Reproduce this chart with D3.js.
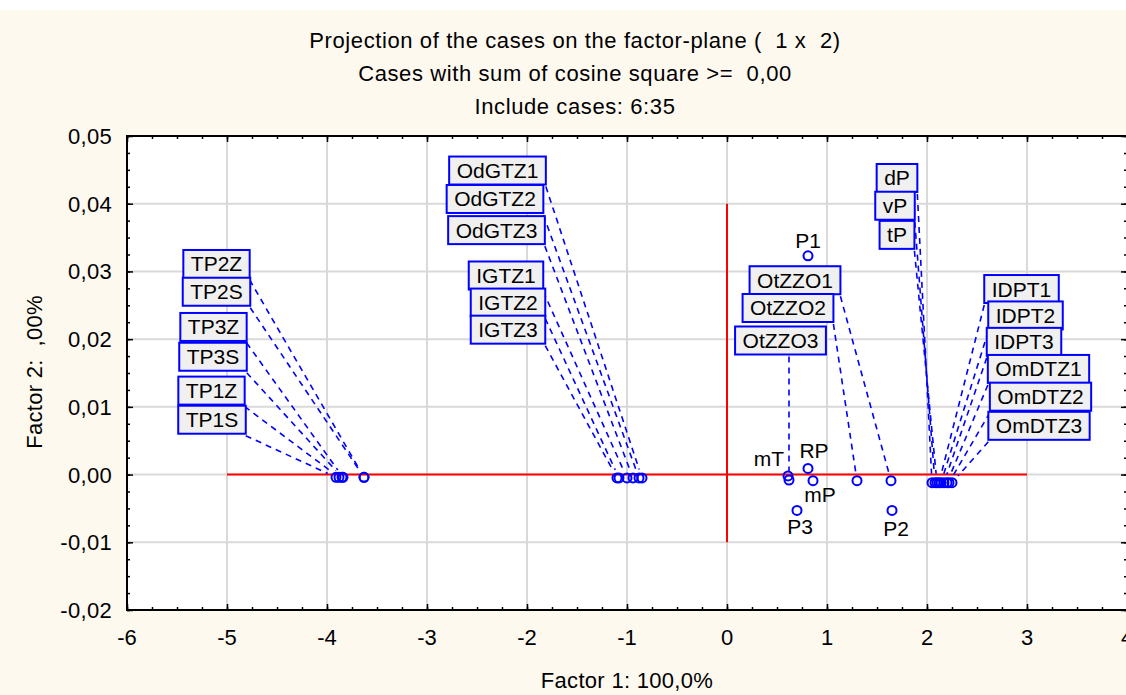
<!DOCTYPE html>
<html>
<head>
<meta charset="utf-8">
<script src="https://cdn.jsdelivr.net/npm/d3@7"></script>
<style>
  body { margin: 0; background: #fff; }
  text { font-family: "Liberation Sans", Arial, sans-serif; fill: #000; white-space: pre; }
</style>
</head>
<body>
<div id="chart"></div>
<script>
// case names and coordinates (factor 1, factor 2)
var boxedNames = ["TP1Z", "TP1S", "TP2Z", "TP2S", "TP3Z", "TP3S",
  "OdGTZ1", "OdGTZ2", "OdGTZ3", "IGTZ1", "IGTZ2", "IGTZ3",
  "OtZZO1", "OtZZO2", "OtZZO3", "dP", "vP", "tP",
  "IDPT1", "IDPT2", "IDPT3", "OmDTZ1", "OmDTZ2", "OmDTZ3"];
var boxedF1 = [-3.88, -3.91, -3.63, -3.63, -3.84, -3.85,
  -0.85, -0.88, -0.94, -1.00, -1.08, -1.10,
  1.64, 1.30, 0.62, 2.05, 2.08, 2.10,
  2.12, 2.14, 2.17, 2.20, 2.22, 2.25];
var boxedF2 = [-0.0004, -0.0004, -0.0004, -0.0004, -0.0004, -0.0004,
  -0.0005, -0.0005, -0.0005, -0.0005, -0.0005, -0.0005,
  -0.0009, -0.0009, -0.0008, -0.0012, -0.0012, -0.0012,
  -0.0012, -0.0012, -0.0012, -0.0012, -0.0012, -0.0012];
// where the software put each label box (centre, in factor units)
var boxF1 = [-5.155, -5.15, -5.105, -5.105, -5.135, -5.14,
  -2.295, -2.32, -2.305, -2.21, -2.19, -2.19,
  0.68, 0.61, 0.535, 1.70, 1.68, 1.70,
  2.945, 2.985, 2.97, 3.115, 3.135, 3.12];
var boxF2 = [0.0124, 0.0081, 0.0311, 0.0270, 0.0218, 0.0174,
  0.0449, 0.0407, 0.0361, 0.0294, 0.0254, 0.0214,
  0.0287, 0.0246, 0.0198, 0.0438, 0.0397, 0.0354,
  0.0274, 0.0235, 0.0196, 0.0156, 0.0115, 0.0072];

var plainNames = ["P1", "mT", "RP", "mP", "P3", "P2"];
var plainF1 = [0.81, 0.61, 0.81, 0.86, 0.70, 1.65];
var plainF2 = [0.0323, -0.0002, 0.0009, -0.0009, -0.0053, -0.0053];
// label offsets from the point (px) and anchor
var plainDx = [0, -4, 6, 7, 3, 4];
var plainDy = [-8, -10, -10, 21, 24, 26];
var plainAnchor = ["middle", "end", "middle", "middle", "middle", "middle"];

var xTicks = [-6, -5, -4, -3, -2, -1, 0, 1, 2, 3, 4];
var yTicks = [-0.02, -0.01, 0, 0.01, 0.02, 0.03, 0.04, 0.05];

var titleLines = ["Projection of the cases on the factor-plane (  1 x  2)",
  "Cases with sum of cosine square >=  0,00",
  "Include cases: 6:35"];

var svgWidth = 1126;
var svgHeight = 695;
var margin = {top: 136, right: -1, bottom: 85, left: 127};
var width = svgWidth - margin.left - margin.right;
var height = svgHeight - margin.top - margin.bottom;
var fs = "22px", ls = "0.6px";

var svg = d3.select("#chart")
  .append("svg")
  .attr("width", svgWidth)
  .attr("height", svgHeight);

// cream page background
svg.append("rect")
  .attr("x", 0).attr("y", 10)
  .attr("width", svgWidth).attr("height", svgHeight - 10)
  .attr("fill", "#fdf9ef");

var g = svg.append("g")
  .attr("transform", `translate(${margin.left}, ${margin.top})`);

var x = d3.scaleLinear().domain([-6, 4]).range([0, width]);
var y = d3.scaleLinear().domain([-0.02, 0.05]).range([height, 0]);

var comma = function(d) { return d.toFixed(2).replace(".", ","); };

g.append("rect")
  .attr("width", width).attr("height", height)
  .attr("fill", "#fff");

// grid
g.selectAll(".gx").data(xTicks).enter().append("line")
  .attr("x1", d => x(d)).attr("x2", d => x(d))
  .attr("y1", 0).attr("y2", height)
  .attr("stroke", "#d9d9d9").attr("stroke-width", 2);
g.selectAll(".gy").data(yTicks).enter().append("line")
  .attr("x1", 0).attr("x2", width)
  .attr("y1", d => y(d)).attr("y2", d => y(d))
  .attr("stroke", "#d9d9d9").attr("stroke-width", 2);

// minor + major ticks, all pointing inwards
var xMinor = d3.range(-6, 4.001, 0.25);
var yMinor = d3.range(-0.02, 0.05001, 0.0025);

function tickAxis(axis, ticks, size, tf) {
  var a = g.append("g").attr("transform", tf)
    .call(axis.tickValues(ticks).tickSize(size).tickFormat(""));
  a.select(".domain").remove();
  a.selectAll("line").attr("stroke", "#000").attr("stroke-width", 1.5);
}
tickAxis(d3.axisBottom(x), xMinor, -3, `translate(0,${height})`);
tickAxis(d3.axisBottom(x), xTicks, -6, `translate(0,${height})`);
tickAxis(d3.axisTop(x), xMinor, -3, "translate(0,0)");
tickAxis(d3.axisTop(x), xTicks, -6, "translate(0,0)");
tickAxis(d3.axisLeft(y), yMinor, -3, "translate(0,0)");
tickAxis(d3.axisLeft(y), yTicks, -6, "translate(0,0)");
tickAxis(d3.axisRight(y), yMinor, -3, `translate(${width},0)`);
tickAxis(d3.axisRight(y), yTicks, -6, `translate(${width},0)`);

// tick labels
g.selectAll(".xl").data(xTicks).enter().append("text")
  .attr("x", d => x(d)).attr("y", height + 35)
  .attr("text-anchor", "middle")
  .style("font-size", fs)
  .text(d => String(d));
g.selectAll(".yl").data(yTicks).enter().append("text")
  .attr("x", -15).attr("y", d => y(d) + 8)
  .attr("text-anchor", "end")
  .style("font-size", fs).style("letter-spacing", "0.3px")
  .text(d => comma(d));

// frame
g.append("rect")
  .attr("width", width).attr("height", height)
  .attr("fill", "none").attr("stroke", "#000").attr("stroke-width", 2);

// red reference lines
g.append("line")
  .attr("x1", x(-5)).attr("x2", x(3))
  .attr("y1", y(0)).attr("y2", y(0))
  .attr("stroke", "#ff0000").attr("stroke-width", 2);
g.append("line")
  .attr("x1", x(0)).attr("x2", x(0))
  .attr("y1", y(0.04)).attr("y2", y(-0.01))
  .attr("stroke", "#ff0000").attr("stroke-width", 2);

// boxed labels with leader lines
var boxed = boxedNames.map(function(n, i) {
  return {name: n, f1: boxedF1[i], f2: boxedF2[i], b1: boxF1[i], b2: boxF2[i]};
});

var boxG = g.append("g");
var leaderG = boxG.append("g");
var labelG = boxG.append("g");

boxed.forEach(function(d) {
  var cx = x(d.b1), cy = y(d.b2);
  var t = labelG.append("text")
    .attr("x", cx).attr("y", cy + 7.5)
    .attr("text-anchor", "middle")
    .style("font-size", "21px")
    .text(d.name);
  var w = t.node().getComputedTextLength() + 15;
  var h = 28;
  labelG.insert("rect", "text")
    .attr("x", cx - w / 2).attr("y", cy - h / 2)
    .attr("width", w).attr("height", h)
    .attr("fill", "#f0f0f0")
    .attr("stroke", "#0000ff").attr("stroke-width", 2);

  var px = x(d.f1), py = y(d.f2);
  var sx = Math.max(cx - w / 2, Math.min(cx + w / 2, px));
  var sy = cy + h / 2 + 2;
  var dx = px - sx, dy = py - sy;
  var len = Math.sqrt(dx * dx + dy * dy);
  var ex = px - dx / len * 9, ey = py - dy / len * 9;
  leaderG.append("line")
    .attr("x1", sx).attr("y1", sy)
    .attr("x2", ex).attr("y2", ey)
    .attr("stroke", "#0000ff").attr("stroke-width", 1.6)
    .attr("stroke-dasharray", "6,5");
});

// plain labels
var plain = plainNames.map(function(n, i) {
  return {name: n, f1: plainF1[i], f2: plainF2[i], dx: plainDx[i], dy: plainDy[i], a: plainAnchor[i]};
});
g.selectAll(".pl").data(plain).enter().append("text")
  .attr("x", d => x(d.f1) + d.dx)
  .attr("y", d => y(d.f2) + d.dy)
  .attr("text-anchor", d => d.a)
  .style("font-size", "21px")
  .text(d => d.name);

// points
var all = boxed.concat(plain);
g.selectAll("circle").data(all).enter().append("circle")
  .attr("cx", d => x(d.f1))
  .attr("cy", d => y(d.f2))
  .attr("r", 4.5)
  .attr("fill", "none")
  .attr("stroke", "#0000ff").attr("stroke-width", 2);

// titles
svg.selectAll(".title").data(titleLines).enter().append("text")
  .attr("x", 575).attr("y", (d, i) => 48 + i * 33)
  .attr("text-anchor", "middle")
  .style("font-size", fs).style("letter-spacing", ls)
  .text(d => d);

svg.append("text")
  .attr("x", 627).attr("y", 688)
  .attr("text-anchor", "middle")
  .style("font-size", fs).style("letter-spacing", "0.3px")
  .text("Factor 1: 100,0%");

svg.append("text")
  .attr("transform", "translate(42, 372) rotate(-90)")
  .attr("text-anchor", "middle")
  .style("font-size", fs).style("letter-spacing", "0.3px")
  .text("Factor 2:  ,00%");
</script>
</body>
</html>
